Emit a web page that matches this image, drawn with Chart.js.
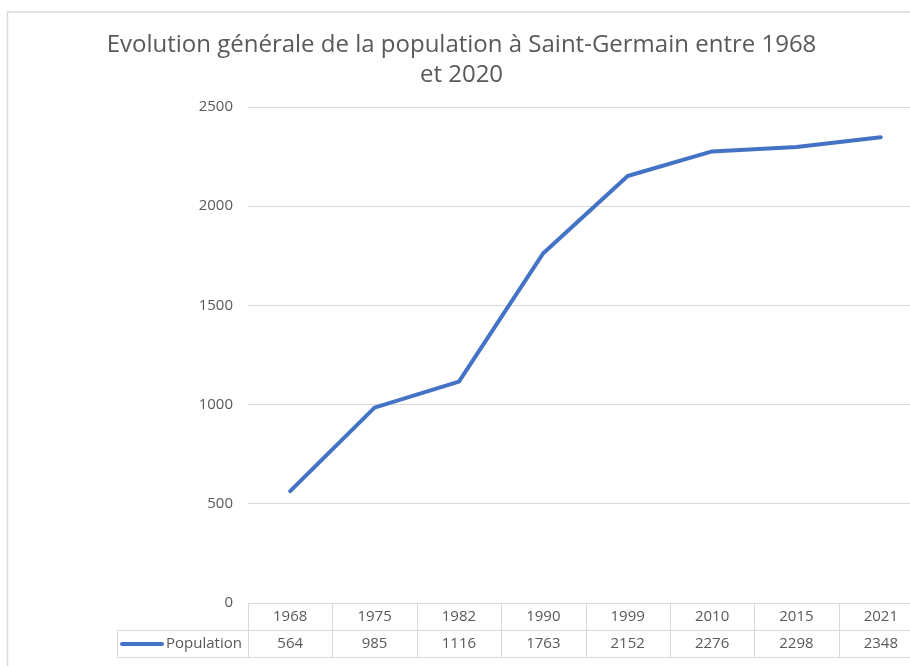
<!DOCTYPE html>
<html>
<head>
<meta charset="utf-8">
<script src="https://cdn.jsdelivr.net/npm/chart.js@4.4.1/dist/chart.umd.min.js"></script>
<style>
  html, body { margin: 0; padding: 0; background: #fff; overflow: hidden; }
  #wrap { position: absolute; left: 0; top: 0; width: 930px; height: 666px; }
</style>
</head>
<body>
<div id="wrap"><canvas id="c"></canvas></div>
<script>
const titleLines = ['Evolution générale de la population à Saint-Germain entre 1968', 'et 2020'];
const categories = ['1968', '1975', '1982', '1990', '1999', '2010', '2015', '2021'];
const population = [564, 985, 1116, 1763, 2152, 2276, 2298, 2348];
const seriesName = 'Population';

const FONT = '"Open Sans", "Noto Sans", sans-serif';
const TEXT = '#595959';
const GRID = '#d9d9d9';
const LINE = '#4472C4';

const frame = {
  id: 'frame',
  beforeDraw(chart) {
    const ctx = chart.ctx;
    ctx.save();
    ctx.fillStyle = '#fff';
    ctx.fillRect(0, 0, chart.width, chart.height);
    ctx.strokeStyle = GRID;
    ctx.lineWidth = 1.5;
    ctx.strokeRect(7.5, 12, 3000, 3000);
    ctx.restore();
  }
};

const dataTable = {
  id: 'dataTable',
  afterDraw(chart) {
    const ctx = chart.ctx;
    const { left, right, bottom } = chart.chartArea;
    const n = categories.length;
    const w = (right - left) / n;
    const rowH = 27;
    const y0 = Math.round(bottom) + 0.5;
    const y1 = y0 + rowH;
    const y2 = y1 + rowH;
    const legLeft = 117.5;
    ctx.save();
    ctx.strokeStyle = GRID;
    ctx.lineWidth = 1;
    ctx.beginPath();
    ctx.moveTo(left, y0); ctx.lineTo(right, y0);
    ctx.moveTo(legLeft, y1); ctx.lineTo(right, y1);
    ctx.moveTo(legLeft, y2); ctx.lineTo(right, y2);
    for (let i = 0; i <= n; i++) {
      const x = Math.round(left + i * w) + 0.5;
      ctx.moveTo(x, y0); ctx.lineTo(x, y2);
    }
    ctx.moveTo(legLeft, y1); ctx.lineTo(legLeft, y2);
    ctx.stroke();

    ctx.fillStyle = TEXT;
    ctx.font = '15px ' + FONT;
    ctx.textAlign = 'center';
    ctx.textBaseline = 'middle';
    const yc = (y1 + y2) / 2;
    population.forEach((v, i) => {
      ctx.fillText(String(v), left + (i + 0.5) * w, yc);
    });
    // legend key
    ctx.strokeStyle = LINE;
    ctx.lineWidth = 4;
    ctx.lineCap = 'round';
    ctx.beginPath();
    ctx.moveTo(122, yc); ctx.lineTo(162, yc);
    ctx.stroke();
    ctx.textAlign = 'left';
    ctx.fillText(seriesName, 166, yc);
    ctx.restore();
  }
};

new Chart(document.getElementById('c'), {
  type: 'line',
  data: {
    labels: categories,
    datasets: [{
      label: seriesName,
      data: population,
      borderColor: LINE,
      backgroundColor: LINE,
      borderWidth: 4,
      borderCapStyle: 'round',
      borderJoinStyle: 'round',
      pointRadius: 0,
      tension: 0,
      fill: false
    }]
  },
  options: {
    responsive: true,
    maintainAspectRatio: false,
    animation: false,
    layout: { padding: { left: 0, right: 7, top: 0, bottom: 0 } },
    plugins: {
      legend: { display: false },
      tooltip: { enabled: false },
      title: {
        display: true,
        text: titleLines,
        color: TEXT,
        font: { family: FONT, size: 24, weight: 'normal', lineHeight: '30px' },
        padding: { top: 30, bottom: 17 }
      }
    },
    scales: {
      x: {
        type: 'category',
        offset: true,
        grid: { display: false, drawTicks: false },
        border: { display: false },
        ticks: {
          color: TEXT,
          font: { family: FONT, size: 15 },
          padding: 5,
          maxRotation: 0,
          autoSkip: false
        },
        afterFit(scale) { scale.height = 63; }
      },
      y: {
        min: 0,
        max: 2500,
        grid: { color: GRID, lineWidth: 1, drawTicks: false },
        border: { display: false },
        ticks: {
          stepSize: 500,
          color: TEXT,
          font: { family: FONT, size: 15 },
          padding: 15,
          callback: (v) => String(v)
        },
        afterFit(scale) { scale.width = 248; }
      }
    }
  },
  plugins: [frame, dataTable]
});
</script>
</body>
</html>
